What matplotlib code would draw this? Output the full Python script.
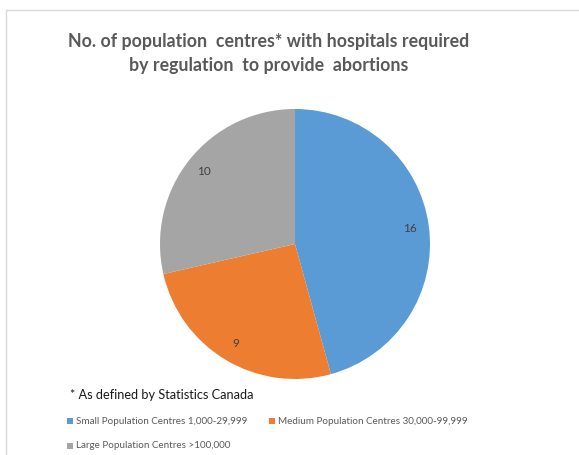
import matplotlib
matplotlib.use('Agg')
import matplotlib.pyplot as plt
from matplotlib.patches import Rectangle

# data
labels = ['Small Population Centres 1,000-29,999',
          'Medium Population Centres 30,000-99,999',
          'Large Population Centres >100,000']
values = [16, 9, 10]
colors = ['#5B9BD5', '#ED7D31', '#A5A5A5']
title = 'No. of population  centres* with hospitals required\nby regulation  to provide  abortions'
note = '* As defined by Statistics Canada'

W, H = 579, 455
fig = plt.figure(figsize=(W / 100, H / 100), dpi=100)
plt.rcParams['font.family'] = ['Lato', 'DejaVu Sans']

# chart area border
fig.patches.append(Rectangle((6 / W, -0.1), 1.2, 1 - 10 / H + 0.1, transform=fig.transFigure,
                             fill=False, edgecolor='#D9D9D9', linewidth=1))

fig.text(269 / W, 1 - 53 / H, title, ha='center', va='center', fontsize=12.8,
         fontweight='bold', color='#595959', linespacing=1.5)

# pie
cx, cy, r = 295, 244, 135
ax = fig.add_axes([(cx - r) / W, 1 - (cy + r) / H, 2 * r / W, 2 * r / H])
total = sum(values)
wedges, texts, autotexts = ax.pie(values, colors=colors, startangle=90, counterclock=False,
                                  autopct=lambda p: '%d' % round(p * total / 100),
                                  pctdistance=0.86,
                                  textprops=dict(color='#404040', fontsize=8.5))
ax.set_xlim(-1, 1)
ax.set_ylim(-1, 1)
ax.set_aspect('equal')

fig.text(70 / W, 1 - 395 / H, note, ha='left', va='center', fontsize=9.2, color='#1a1a1a')

# legend
leg_pos = [(70, 421), (272, 421), (70, 446)]
for (lx, ly), lab, col in zip(leg_pos, labels, colors):
    fig.patches.append(Rectangle((lx / W - 3 / W, 1 - ly / H - 3 / H), 6 / W, 6 / H,
                                 transform=fig.transFigure, facecolor=col, edgecolor='none'))
    fig.text((lx + 6) / W, 1 - ly / H, lab, ha='left', va='center', fontsize=7.1, color='#595959')

fig.savefig('out.png', dpi=100)
